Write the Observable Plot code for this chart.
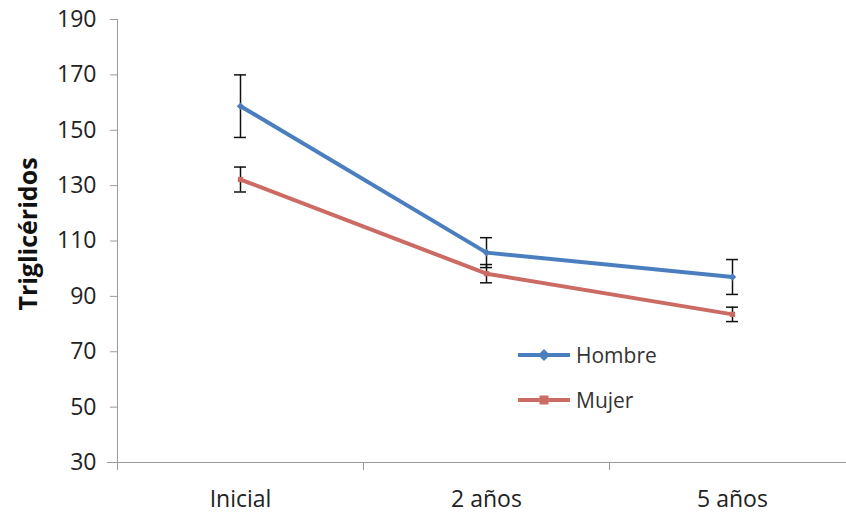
<!DOCTYPE html>
<html>
<head>
<meta charset="utf-8">
<script src="https://cdn.jsdelivr.net/npm/d3@7"></script>
<script src="https://cdn.jsdelivr.net/npm/@observablehq/plot@0.6"></script>
<style>
  body { margin: 0; background: #fff; }
  #wrap { position: relative; width: 846px; height: 517px; font-family: "Open Sans", sans-serif; }
  .leg { position: absolute; display: flex; align-items: center; font-size: 21px; color: #333; }
  .ylab { position: absolute; left: 27px; top: 234px; transform: translate(-50%, -50%) rotate(-90deg); font-size: 25px; font-weight: bold; color: #111; white-space: nowrap; line-height: 1; }
</style>
</head>
<body>
<div id="wrap"></div>
<script>
const categories = ["Inicial", "2 años", "5 años"];
const series = ["Hombre", "Mujer"];
const hombre = [158.7, 105.8, 97.0];
const hombreErr = [11.3, 5.4, 6.3];
const mujer = [132.2, 98.2, 83.5];
const mujerErr = [4.5, 3.3, 2.6];
const yTicks = [30, 50, 70, 90, 110, 130, 150, 170, 190];
const yLabel = "Triglicéridos";

const colors = { Hombre: "#4A7EBF", Mujer: "#CC6A64" };
const symbols = { Hombre: "diamond2", Mujer: "square" };

const rows = [];
categories.forEach((c, i) => {
  rows.push({ cat: c, serie: "Hombre", v: hombre[i], e: hombreErr[i] });
  rows.push({ cat: c, serie: "Mujer", v: mujer[i], e: mujerErr[i] });
});

function axisLines(index, scales) {
  const g = d3.create("svg:g");
  const y0 = scales.y(yTicks[0]);
  const y1 = scales.y(yTicks[yTicks.length - 1]);
  const bw = scales.x.bandwidth ? scales.x.bandwidth() : 0;
  const xs = categories.map(c => scales.x(c));
  xs.push(xs[xs.length - 1] + bw);
  g.append("line").attr("x1", xs[0] + 0.5).attr("x2", xs[0] + 0.5).attr("y1", y0).attr("y2", y1)
    .attr("stroke", "#9a9a9a").attr("stroke-width", 1);
  g.append("line").attr("x1", xs[0] - 10).attr("x2", xs[xs.length - 1]).attr("y1", y0 + 0.5).attr("y2", y0 + 0.5)
    .attr("stroke", "#9a9a9a").attr("stroke-width", 1);
  for (const x of xs) {
    g.append("line").attr("x1", x + 0.5).attr("x2", x + 0.5).attr("y1", y0).attr("y2", y0 + 8)
      .attr("stroke", "#9a9a9a").attr("stroke-width", 1);
  }
  return g.node();
}

const chart = Plot.plot({
  width: 846,
  height: 517,
  marginLeft: 117,
  marginTop: 19,
  marginBottom: 55,
  marginRight: 0,
  style: { fontFamily: "Open Sans, sans-serif", background: "#fff" },
  x: { type: "band", domain: categories, range: [117, 855], padding: 0 },
  y: { domain: [30, 190], range: [462, 19] },
  marks: [
    axisLines,
    Plot.axisY({ ticks: yTicks, tickSize: 7, tickPadding: 14, stroke: "#9a9a9a", fill: "#222", fontSize: 23, label: null, tickFormat: d => String(d) }),
    Plot.axisX({ tickSize: 0, tickPadding: 28, fill: "#222", fontSize: 23, label: null }),
    Plot.line(rows, { x: "cat", y: "v", z: "serie", stroke: d => colors[d.serie], strokeWidth: 4 }),
    Plot.ruleX(rows, { x: "cat", y1: d => d.v - d.e, y2: d => d.v + d.e, stroke: "#111", strokeWidth: 1.5 }),
    Plot.tickY(rows, { x: "cat", y: d => d.v + d.e, stroke: "#111", strokeWidth: 1.5, insetLeft: 117, insetRight: 117 }),
    Plot.tickY(rows, { x: "cat", y: d => d.v - d.e, stroke: "#111", strokeWidth: 1.5, insetLeft: 117, insetRight: 117 }),
    Plot.dot(rows, { x: "cat", y: "v", symbol: d => symbols[d.serie], fill: d => colors[d.serie], stroke: "none", r: d => d.serie === "Hombre" ? 7 : 5.5 })
  ]
});

const wrap = document.getElementById("wrap");
wrap.appendChild(chart);

const ylab = document.createElement("div");
ylab.className = "ylab";
ylab.textContent = yLabel;
wrap.appendChild(ylab);

// legend
const legTop = { Hombre: 341, Mujer: 386 };
series.forEach(s => {
  const div = document.createElement("div");
  div.className = "leg";
  div.style.left = "518px";
  div.style.top = legTop[s] + "px";
  const sym = s === "Hombre"
    ? `<path d="M26,1 L32,7 L26,13 L20,7 Z" fill="${colors[s]}"/>`
    : `<rect x="21.5" y="2.5" width="9" height="9" fill="${colors[s]}"/>`;
  div.innerHTML = `<svg width="54" height="14" style="margin-right:4px"><line x1="0" x2="52" y1="7" y2="7" stroke="${colors[s]}" stroke-width="4"/>${sym}</svg><span>${s}</span>`;
  wrap.appendChild(div);
});
</script>
</body>
</html>
